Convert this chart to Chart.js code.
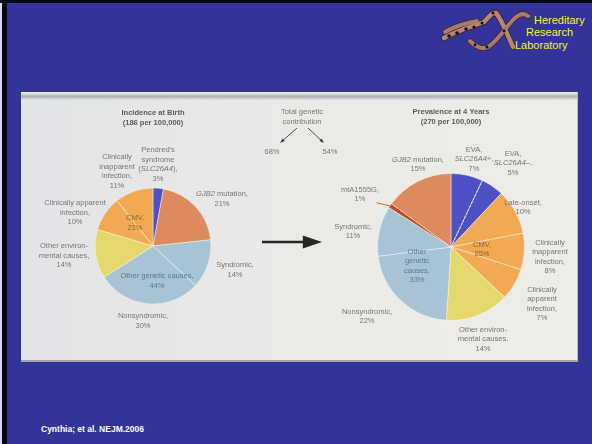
<!DOCTYPE html>
<html>
<head>
<meta charset="utf-8">
<title>Causes of hearing loss: birth vs. 4 years</title>
<script src="https://cdn.jsdelivr.net/npm/chart.js@4.4.1/dist/chart.umd.min.js"></script>
<style>
  html, body { margin: 0; padding: 0; }
  body { width: 592px; height: 444px; background: #333399; position: relative; overflow: hidden;
         font-family: "Liberation Sans", Arial, sans-serif; }
  .edge { position: absolute; background: #05051a; }
  .logo-text { position: absolute; color: #f6f62a; font-size: 11px; line-height: 12px; white-space: nowrap; }
  .panel { position: absolute; left: 21px; top: 92px; width: 557px; height: 270px;
           background: linear-gradient(90deg, #e3e4e7 0%, #ebeae7 55%, #eeece6 100%);
           border-bottom: 2px solid #a4a6a6; border-right: 1px solid #b9bbbb; box-sizing: border-box; }
  .panel .stripe { position: absolute; left: 0; top: 0; width: 100%; height: 8px;
           background: linear-gradient(#f2f2f2 0%, #e0e2e2 25%, #a9adad 50%, #c4c7c7 75%, #e4e5e5 100%); }
  .panel canvas { position: absolute; left: 0; top: 0; filter: blur(0.35px); }
  .cite { position: absolute; left: 41px; top: 424px; color: #fff; font-weight: bold; font-size: 8.5px; line-height: 10px; }
</style>
</head>
<body>
<div class="edge" style="left:0;top:0;width:2px;height:444px;background:#d9d9e6"></div>
<div class="edge" style="left:2px;top:0;width:5px;height:444px"></div>
<div class="edge" style="left:0;top:0;width:592px;height:3px"></div>

<!-- lab logo: twisted double strand -->
<svg style="position:absolute;left:430px;top:0" width="100" height="60" viewBox="0 0 100 60">
  <g fill="none" stroke-linecap="round">
    <path d="M14,38 C26,31 40,27 54,22 C59,17 62,12 66,13 C72,20 78,36 83,47" stroke="#3b2222" stroke-width="6"/>
    <path d="M40,41 C46,47 52,50 58,47 C66,42 74,30 82,21 C88,14 93,12 98,16" stroke="#3b2222" stroke-width="5.5"/>
    <path d="M15,32 C25,26 36,23 47,21" stroke="#3b2222" stroke-width="5.5"/>
    <path d="M14,38 C26,31 40,27 54,22 C59,17 62,12 66,13 C72,20 78,36 83,47" stroke="#b7867a" stroke-width="4.4"/>
    <path d="M40,41 C46,47 52,50 58,47 C66,42 74,30 82,21 C88,14 93,12 98,16" stroke="#a97b70" stroke-width="4"/>
    <path d="M15,32 C25,26 36,23 47,21" stroke="#a97b70" stroke-width="4"/>
  </g>
  <g fill="#111">
    <circle cx="19" cy="36" r="1.8"/><circle cx="27" cy="33" r="1.8"/><circle cx="36" cy="29" r="1.7"/>
    <circle cx="44" cy="27" r="1.6"/><circle cx="52" cy="23" r="1.5"/><circle cx="63" cy="13" r="1.5"/>
    <circle cx="57" cy="47" r="1.5"/><circle cx="74" cy="31" r="1.4"/><circle cx="45" cy="45" r="1.4"/>
  </g>
</svg>
<div class="logo-text" style="left:534px;top:14px">Hereditary</div>
<div class="logo-text" style="left:526px;top:26px">Research</div>
<div class="logo-text" style="left:515px;top:39px">Laboratory</div>

<div class="panel">
  <div class="stripe"></div>
  <canvas id="birth" width="557" height="268"></canvas>
  <canvas id="fourYears" width="557" height="268"></canvas>
</div>

<div class="cite">Cynthia; et al. NEJM.2006</div>

<script>
// Incidence at birth, clockwise from 12 o'clock
const birthCauses = [
  "Pendred's\nsyndrome\n(SLC26A4)",
  'GJB2 mutation',
  'Syndromic',
  'Nonsyndromic',
  'Other environ-\nmental causes',
  'Clinically apparent\ninfection',
  'Clinically\ninapparent\ninfection'
];
const birthShares = [3, 21, 14, 30, 14, 10, 11];

// Prevalence at 4 years, clockwise from 12 o'clock
const fourYearCauses = [
  'EVA,\nSLC26A4+',
  'EVA,\nSLC26A4–',
  'Late-onset',
  'Clinically\ninapparent\ninfection',
  'Clinically\napparent\ninfection',
  'Other environ-\nmental causes',
  'Nonsyndromic',
  'Syndromic',
  'mtA1555G',
  'GJB2 mutation'
];
const fourYearShares = [7, 5, 10, 8, 7, 14, 22, 11, 1, 15];

const ratesPer100k = [186, 270];
const geneticTotals = [68, 54];

// grouped labels written inside the pies (name, member slice indexes)
const birthGroups = [['CMV', [5, 6]], ['Other genetic causes', [2, 3]]];
const fourYearGroups = [['CMV', [2, 3, 4]], ['Other\ngenetic\ncauses', [6, 7]]];

const COL = { eva: '#4d51c3', gjb2: '#dc8a5e', genetic: '#a8c3d3', env: '#e4d76c', cmv: '#f1aa52', mt: '#c44a22' };
const birthColors = [COL.eva, COL.gjb2, COL.genetic, COL.genetic, COL.env, COL.cmv, COL.cmv];
const fourYearColors = [COL.eva, COL.eva, COL.cmv, COL.cmv, COL.cmv, COL.env, COL.genetic, COL.genetic, COL.mt, COL.gjb2];

// label anchors, offsets from the pie centre (x, y of first line)
const birthLabelAt = [[5, -96], [69, -52], [82, 19], [-10, 70], [-89, 0], [-78, -43], [-36, -89]];
const birthGroupAt = [[-18, -28], [4, 30]];
const fourYearLabelAt = [[23, -97], [62, -93], [72, -44], [99, -4], [91, 43], [32, 83], [-84, 65], [-98, -20], [-91, -57], [-33, -87]];
const fourYearGroupAt = [[31, -2], [-34, 5]];

const FONT = '"Liberation Sans", Arial, sans-serif';
const SQUEEZE = 0.94;   // slightly condensed figure lettering
const SIZE = 8;
const GENE = /(GJB2|SLC26A4[+–]?)/;

// one centred line, gene symbols in italics
function richLine(ctx, line, x, y, size, weight) {
  const parts = line.split(GENE).filter(p => p.length);
  const fontFor = p => `${GENE.test(p) ? 'italic ' : ''}${weight} ${size}px ${FONT}`;
  const widths = parts.map(p => { ctx.font = fontFor(p); return ctx.measureText(p).width; });
  const total = widths.reduce((a, b) => a + b, 0);
  ctx.save();
  ctx.translate(x - total * SQUEEZE / 2, y);
  ctx.scale(SQUEEZE, 1);
  let cx = 0;
  parts.forEach((p, i) => { ctx.font = fontFor(p); ctx.fillText(p, cx, 0); cx += widths[i]; });
  ctx.restore();
}

function textBlock(ctx, text, x, y, lh, size, weight, color) {
  ctx.fillStyle = color;
  text.split('\n').forEach((line, i) => richLine(ctx, line, x, y + i * lh, size, weight));
}

function arrow(ctx, x1, y1, x2, y2, width, head, color) {
  const a = Math.atan2(y2 - y1, x2 - x1);
  ctx.strokeStyle = color;
  ctx.fillStyle = color;
  ctx.lineWidth = width;
  ctx.beginPath();
  ctx.moveTo(x1, y1);
  ctx.lineTo(x2 - Math.cos(a) * head, y2 - Math.sin(a) * head);
  ctx.stroke();
  ctx.beginPath();
  ctx.moveTo(x2, y2);
  ctx.lineTo(x2 - Math.cos(a) * head * 1.6 - Math.sin(a) * head * 0.55, y2 - Math.sin(a) * head * 1.6 + Math.cos(a) * head * 0.55);
  ctx.lineTo(x2 - Math.cos(a) * head * 1.6 + Math.sin(a) * head * 0.55, y2 - Math.sin(a) * head * 1.6 - Math.cos(a) * head * 0.55);
  ctx.closePath();
  ctx.fill();
}

const pieText = {
  id: 'pieText',
  afterDatasetsDraw(chart, args, o) {
    const { ctx } = chart;
    const { x: cx, y: cy } = chart.getDatasetMeta(0).data[0];
    const causes = chart.data.labels;
    const shares = chart.data.datasets[0].data;
    ctx.save();
    ctx.textAlign = 'left';
    ctx.textBaseline = 'middle';
    textBlock(ctx, o.title, cx, cy + o.titleDy, 10, SIZE, 'bold', '#5a5a5a');
    causes.forEach((c, i) => {
      const [dx, dy] = o.labelAt[i];
      textBlock(ctx, `${c},\n${shares[i]}%`, cx + dx, cy + dy, o.lineHeight, SIZE, 'normal', '#767676');
    });
    o.groups.forEach(([name, members], i) => {
      const sum = members.reduce((s, k) => s + shares[k], 0);
      const [dx, dy] = o.groupAt[i];
      textBlock(ctx, `${name},\n${sum}%`, cx + dx, cy + dy, o.lineHeight, SIZE, 'normal', o.groupColors[i]);
    });
    ctx.restore();
  }
};

// centre notes and the big arrow between the pies
const contribution = {
  id: 'contribution',
  afterDraw(chart) {
    const { ctx } = chart;
    ctx.save();
    ctx.textAlign = 'left';
    ctx.textBaseline = 'middle';
    textBlock(ctx, 'Total genetic\ncontribution', 281, 20, 9.5, SIZE, 'normal', '#767676');
    arrow(ctx, 276, 36, 259, 51, 0.9, 3, '#3a3a3a');
    arrow(ctx, 287, 36, 303, 51, 0.9, 3, '#3a3a3a');
    textBlock(ctx, geneticTotals[0] + '%', 251, 60, 9.5, SIZE, 'normal', '#767676');
    textBlock(ctx, geneticTotals[1] + '%', 309, 60, 9.5, SIZE, 'normal', '#767676');
    arrow(ctx, 241, 150, 301, 150, 2.6, 12, '#262626');
    ctx.restore();
  }
};

// dashed split of the EVA wedge and the leader for the thin mtA1555G wedge
const fourYearMarks = {
  id: 'fourYearMarks',
  afterDatasetsDraw(chart) {
    const { ctx } = chart;
    const arcs = chart.getDatasetMeta(0).data;
    const { x, y, outerRadius: r } = arcs[0];
    ctx.save();
    const a = arcs[0].endAngle;
    ctx.strokeStyle = 'rgba(255,255,255,0.85)';
    ctx.lineWidth = 1;
    ctx.setLineDash([2, 2]);
    ctx.beginPath();
    ctx.moveTo(x, y);
    ctx.lineTo(x + Math.cos(a) * r, y + Math.sin(a) * r);
    ctx.stroke();
    ctx.setLineDash([]);
    const mt = arcs[8];
    const m = (mt.startAngle + mt.endAngle) / 2;
    ctx.strokeStyle = '#c44a22';
    ctx.lineWidth = 0.9;
    ctx.beginPath();
    ctx.moveTo(x + Math.cos(m) * (r - 1), y + Math.sin(m) * (r - 1));
    ctx.lineTo(x + Math.cos(m - 0.06) * (r + 13), y + Math.sin(m - 0.06) * (r + 13));
    ctx.stroke();
    ctx.restore();
  }
};

function makePie(id, labels, data, colors, radius, padding, text, extra) {
  return new Chart(document.getElementById(id), {
    type: 'pie',
    data: {
      labels,
      datasets: [{
        data,
        radius,
        backgroundColor: colors,
        borderColor: 'rgba(255,255,255,0.55)',
        borderWidth: 0.8
      }]
    },
    options: {
      responsive: false,
      animation: false,
      devicePixelRatio: 1,
      events: [],
      layout: { padding },
      plugins: {
        legend: { display: false },
        tooltip: { enabled: false },
        pieText: text
      }
    },
    plugins: [pieText, extra]
  });
}

makePie('birth', birthCauses, birthShares, birthColors, 58,
  { left: 74, right: 367, top: 96, bottom: 56 },
  {
    title: `Incidence at Birth\n(${ratesPer100k[0]} per 100,000)`, titleDy: -133,
    labelAt: birthLabelAt, groups: birthGroups, groupAt: birthGroupAt,
    groupColors: ['#8c6428', '#5b7a8e'], lineHeight: 9.6
  },
  contribution);

makePie('fourYears', fourYearCauses, fourYearShares, fourYearColors, 73.5,
  { left: 356.5, right: 53.5, top: 81.5, bottom: 39.5 },
  {
    title: `Prevalence at 4 Years\n(${ratesPer100k[1]} per 100,000)`, titleDy: -135,
    labelAt: fourYearLabelAt, groups: fourYearGroups, groupAt: fourYearGroupAt,
    groupColors: ['#8c6428', '#5b7a8e'], lineHeight: 9.2
  },
  fourYearMarks);
</script>
</body>
</html>
